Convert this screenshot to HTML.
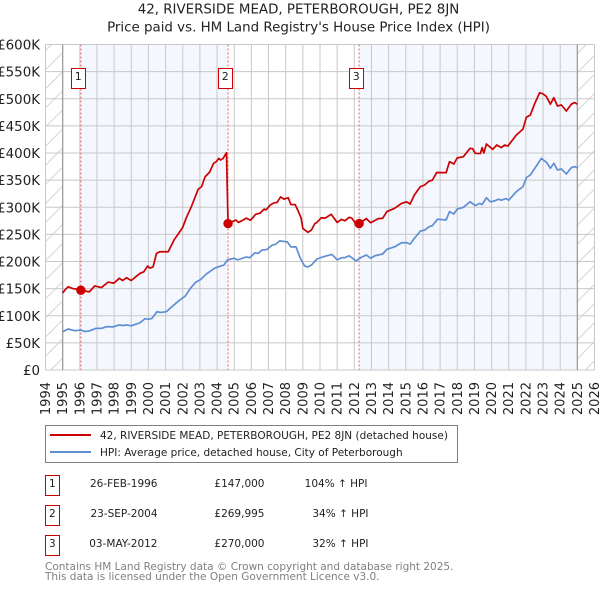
<!DOCTYPE html>
<html lang="en">
<head>
<meta charset="utf-8">
<title>42, Riverside Mead price chart</title>
<style>
html,body{margin:0;padding:0;background:#fff;width:600px;height:590px;overflow:hidden}
svg{display:block;font-family:"DejaVu Sans","Liberation Sans",sans-serif}
</style>
</head>
<body>
<svg id="chart" xmlns="http://www.w3.org/2000/svg" width="600" height="590" viewBox="0 0 600 590">
<defs>
<pattern id="hatch" patternUnits="userSpaceOnUse" width="13.5" height="13.5" patternTransform="rotate(-45) scale(1)">
<rect width="13.5" height="13.5" fill="#ffffff"/>
<line x1="0" y1="0.5" x2="13.5" y2="0.5" stroke="#d4d4d4" stroke-width="1"/>
</pattern>
</defs>
<g id="plot"></g>
<text x="298.5" y="13.3" text-anchor="middle" font-size="13.4" fill="#222">42, RIVERSIDE MEAD, PETERBOROUGH, PE2 8JN</text>
<text x="298.5" y="31.6" text-anchor="middle" font-size="13.4" fill="#222">Price paid vs. HM Land Registry's House Price Index (HPI)</text>

<g>
<rect x="45.5" y="425.5" width="412" height="37" fill="#fff" stroke="#808080" stroke-width="1"/>
<line x1="50" x2="91" y1="435" y2="435" stroke="#cc0000" stroke-width="2"/>
<text x="100" y="439" font-size="10.5" fill="#222">42, RIVERSIDE MEAD, PETERBOROUGH, PE2 8JN (detached house)</text>
<line x1="50" x2="91" y1="452" y2="452" stroke="#5f8fd3" stroke-width="2"/>
<text x="100" y="456" font-size="10.5" fill="#222">HPI: Average price, detached house, City of Peterborough</text>
</g>

<g font-size="10.5" fill="#222">
<rect x="45.5" y="475.5" width="14" height="20" fill="#fff" stroke="#cc0000"/>
<text x="52.3" y="487" text-anchor="middle">1</text>
<text x="157.5" y="487" text-anchor="end">26-FEB-1996</text>
<text x="264.5" y="487" text-anchor="end">£147,000</text>
<text x="367.5" y="487" text-anchor="end">104% ↑ HPI</text>
<rect x="45.5" y="505.5" width="14" height="20" fill="#fff" stroke="#cc0000"/>
<text x="52.3" y="517" text-anchor="middle">2</text>
<text x="157.5" y="517" text-anchor="end">23-SEP-2004</text>
<text x="264.5" y="517" text-anchor="end">£269,995</text>
<text x="368.5" y="517" text-anchor="end">34% ↑ HPI</text>
<rect x="45.5" y="535.5" width="14" height="20" fill="#fff" stroke="#cc0000"/>
<text x="52.3" y="547" text-anchor="middle">3</text>
<text x="157.5" y="547" text-anchor="end">03-MAY-2012</text>
<text x="264.5" y="547" text-anchor="end">£270,000</text>
<text x="368.5" y="547" text-anchor="end">32% ↑ HPI</text>
</g>

<text x="45" y="570" font-size="10.5" fill="#808080">Contains HM Land Registry data © Crown copyright and database right 2025.</text>
<text x="45" y="580" font-size="10.5" fill="#808080">This data is licensed under the Open Government Licence v3.0.</text>
</svg>
<script>
const yTicks = [0, 50, 100, 150, 200, 250, 300, 350, 400, 450, 500, 550, 600];
const yTickLabels = ["£0", "£50K", "£100K", "£150K", "£200K", "£250K", "£300K", "£350K", "£400K", "£450K", "£500K", "£550K", "£600K"];
const xTicks = [1994, 1995, 1996, 1997, 1998, 1999, 2000, 2001, 2002, 2003, 2004, 2005, 2006, 2007, 2008, 2009, 2010, 2011, 2012, 2013, 2014, 2015, 2016, 2017, 2018, 2019, 2020, 2021, 2022, 2023, 2024, 2025, 2026];

const saleDates = [1996.06, 2004.64, 2012.28];
const salePrices = [147, 269.995, 270];
const saleLabels = ["1", "2", "3"];

const propertyDates = [1995, 1995.15, 1995.32, 1995.6, 1995.9, 1996.06, 1996.55, 1996.87, 1997.26, 1997.65, 1997.98, 1998.3, 1998.5, 1998.72, 1999, 1999.5, 1999.73, 1999.95, 2000.08, 2000.27, 2000.47, 2000.66, 2001.15, 2001.5, 2001.83, 2002, 2002.2, 2002.5, 2002.9, 2003.1, 2003.3, 2003.57, 2003.8, 2003.95, 2004.1, 2004.2, 2004.35, 2004.55, 2004.64, 2005.1, 2005.25, 2005.5, 2005.7, 2005.95, 2006.25, 2006.5, 2006.75, 2006.85, 2007.1, 2007.3, 2007.5, 2007.7, 2007.9, 2008.15, 2008.3, 2008.55, 2008.7, 2008.9, 2009, 2009.3, 2009.5, 2009.7, 2009.8, 2010.08, 2010.3, 2010.65, 2011, 2011.25, 2011.45, 2011.7, 2011.85, 2012.05, 2012.28, 2012.7, 2012.95, 2013.4, 2013.65, 2013.9, 2014.35, 2014.75, 2015.05, 2015.25, 2015.5, 2015.85, 2016.1, 2016.35, 2016.55, 2016.8, 2017.35, 2017.55, 2017.8, 2018, 2018.35, 2018.75, 2018.9, 2019.05, 2019.35, 2019.45, 2019.55, 2019.7, 2020.07, 2020.3, 2020.57, 2020.76, 2020.95, 2021.44, 2021.83, 2022.03, 2022.26, 2022.5, 2022.8, 2023, 2023.2, 2023.43, 2023.63, 2023.84, 2024.07, 2024.36, 2024.65, 2024.84, 2025];
const propertyValues = [142, 148, 153.5, 150, 149, 147, 144, 155, 152, 162, 160, 169, 165, 170, 165, 178, 181, 191.6, 188, 190, 215, 218, 218, 240, 255, 263, 280, 301, 333, 338, 356, 365, 381, 384, 390, 387, 390, 400.5, 270, 276.4, 272, 276, 280, 276, 287, 289, 296.7, 295, 304, 308, 309, 319, 315, 317.5, 305, 305, 295, 280, 261, 253.7, 258, 270, 271.5, 280.7, 280, 287, 272, 277.7, 275, 281.4, 280, 271.5, 270, 279, 271.5, 279, 279.5, 292, 298, 307, 310, 306, 322.6, 338, 341, 348, 350, 364, 363.7, 384, 379.7, 391, 393, 408.6, 408, 399.4, 399, 410, 400, 416.6, 406.8, 414.7, 410, 414.7, 412.8, 433, 444, 466, 470, 490, 511, 509, 504, 490, 502, 486.6, 488.5, 477.4, 490, 493, 490];

const hpiDates = [1995, 1995.32, 1995.7, 1996.05, 1996.3, 1996.55, 1996.95, 1997.3, 1997.55, 1997.95, 1998.3, 1998.5, 1998.75, 1999, 1999.5, 1999.8, 2000, 2000.2, 2000.5, 2000.7, 2001.05, 2001.45, 2001.75, 2002.15, 2002.45, 2002.75, 2003.05, 2003.35, 2003.85, 2004.1, 2004.4, 2004.6, 2005, 2005.2, 2005.7, 2005.9, 2006.2, 2006.4, 2006.6, 2006.9, 2007.2, 2007.4, 2007.65, 2008.1, 2008.3, 2008.6, 2008.85, 2009.1, 2009.3, 2009.5, 2009.82, 2010.08, 2010.33, 2010.7, 2011, 2011.25, 2011.45, 2011.7, 2012.1, 2012.4, 2012.7, 2012.95, 2013.2, 2013.65, 2013.9, 2014.35, 2014.75, 2015.05, 2015.25, 2015.5, 2015.85, 2016.1, 2016.35, 2016.55, 2016.85, 2017.35, 2017.55, 2017.8, 2018, 2018.35, 2018.75, 2019.05, 2019.3, 2019.45, 2019.7, 2019.93, 2020.2, 2020.4, 2020.57, 2020.85, 2021, 2021.44, 2021.83, 2022.03, 2022.26, 2022.56, 2022.9, 2023.2, 2023.43, 2023.63, 2023.84, 2024.07, 2024.36, 2024.65, 2024.84, 2025];
const hpiValues = [70.6, 75.6, 72.5, 73.6, 71, 72, 76.8, 77, 79.9, 79.5, 83, 82, 83, 81.5, 87, 94.6, 93.5, 95, 107.5, 106, 107.5, 119, 127, 136.4, 150.6, 161.6, 167, 176.4, 187.4, 190.4, 193.5, 202.8, 206, 203, 208.3, 207, 216, 215, 221, 222, 230, 231.6, 238, 236, 227, 227, 206, 191.7, 190, 193.5, 204.6, 207.6, 210, 213, 203, 207, 207, 210.6, 201, 207.6, 212, 206, 210.6, 213.8, 222.4, 227, 234.6, 234.6, 232, 242.6, 256, 258, 264, 266, 278, 276.5, 292, 287.5, 296.7, 299.7, 310, 303, 307, 305, 317.5, 310, 312, 315, 313, 316, 313, 328.7, 338, 354.5, 359.5, 373.6, 390, 382.9, 371.8, 381, 368.7, 370.6, 361.4, 373, 375, 372.6];

const plotLeft = 45.5, plotRight = 594.5, plotTop = 44.5, plotBottom = 370;
const xMin = 1994, xMax = 2026, yMax = 600;
const dataStart = 1995, dataEnd = 2025;

function xScale(year) {
  return plotLeft + (year - xMin) / (xMax - xMin) * (plotRight - plotLeft);
}
function yScale(value) {
  return plotBottom - value / yMax * (plotBottom - plotTop);
}
const NS = 'http://www.w3.org/2000/svg';
const plot = document.getElementById('plot');
function make(tag, attrs) {
  const el = document.createElementNS(NS, tag);
  for (const k in attrs) el.setAttribute(k, attrs[k]);
  plot.appendChild(el);
  return el;
}

/* shaded ownership bands */
const bandEdges = [saleDates[0], saleDates[1], saleDates[2], dataEnd];
for (let i = 0; i < bandEdges.length - 1; i += 2) {
  const band = make('rect', {x: xScale(bandEdges[i]), y: plotTop, width: xScale(bandEdges[i + 1]) - xScale(bandEdges[i]), height: plotBottom - plotTop, fill: '#f4f7fe'});
  
  
}

/* hatched out-of-range regions */
const hatchLeft = make('rect', {x: xScale(xMin), y: plotTop, width: xScale(dataStart) - xScale(xMin), height: plotBottom - plotTop, fill: 'url(#hatch)'});


const hatchRight = make('rect', {x: xScale(dataEnd), y: plotTop, width: xScale(xMax) - xScale(dataEnd), height: plotBottom - plotTop, fill: 'url(#hatch)'});



/* grid + tick labels */
yTicks.forEach(function (t, i) {
  const g = make('line', {x1: plotLeft, x2: plotRight, y1: yScale(t), y2: yScale(t), stroke: '#c8c8c8', 'stroke-width': 1});
  
  
  const lab = make('text', {x: 40, y: yScale(t) + 5, 'text-anchor': 'end', 'font-size': 13.4, fill: '#222'});
  lab.textContent = yTickLabels[i];
  
  
});
xTicks.forEach(function (t) {
  const g = make('line', {x1: xScale(t), x2: xScale(t), y1: plotTop, y2: plotBottom, stroke: '#c8c8c8', 'stroke-width': 1});
  
  
  const bx = xScale(t) + 4.5;
  const lab = make('text', {x: bx, y: 382, 'text-anchor': 'end', 'font-size': 13, fill: '#222', transform: 'rotate(-90 ' + bx + ' 382)'});
  lab.textContent = String(t);
  
  
});

/* data range boundaries */
[dataStart, dataEnd].forEach(function (t) {
  const b = make('line', {x1: xScale(t), x2: xScale(t), y1: plotTop, y2: plotBottom, stroke: '#999999', 'stroke-width': 1.2});
  
  
});

/* sale guide lines */
saleDates.forEach(function (d) {
  const v = make('line', {x1: xScale(d), x2: xScale(d), y1: plotTop, y2: plotBottom, stroke: '#e8636b', 'stroke-width': 1, 'stroke-dasharray': '2 2'});
  
  
});

function linePath(xs, ys) {
  return xs.map(function (x, i) {
    return (i ? 'L' : 'M') + xScale(x).toFixed(2) + ' ' + yScale(ys[i]).toFixed(2);
  }).join(' ');
}
const hpiLine = make('path', {d: linePath(hpiDates, hpiValues), fill: 'none', stroke: '#5f8fd3', 'stroke-width': 1.7, 'stroke-linejoin': 'round'});


const propertyLine = make('path', {d: linePath(propertyDates, propertyValues), fill: 'none', stroke: '#cc0000', 'stroke-width': 1.7, 'stroke-linejoin': 'round'});



/* sale markers + numbered flags */
saleDates.forEach(function (d, i) {
  const m = make('circle', {cx: xScale(d), cy: yScale(salePrices[i]), r: 4.7, fill: '#cc0000'});
  
  
  const box = make('rect', {x: Math.round(xScale(d)) - 9.5, y: 68.5, width: 14, height: 20, fill: '#fff', stroke: '#cc0000', 'stroke-width': 1});
  
  
  const tx = make('text', {x: Math.round(xScale(d)) - 2.7, y: 80, 'text-anchor': 'middle', 'font-size': 11, fill: '#222'});
  tx.textContent = saleLabels[i];
  
  
});
</script>
</body>
</html>
